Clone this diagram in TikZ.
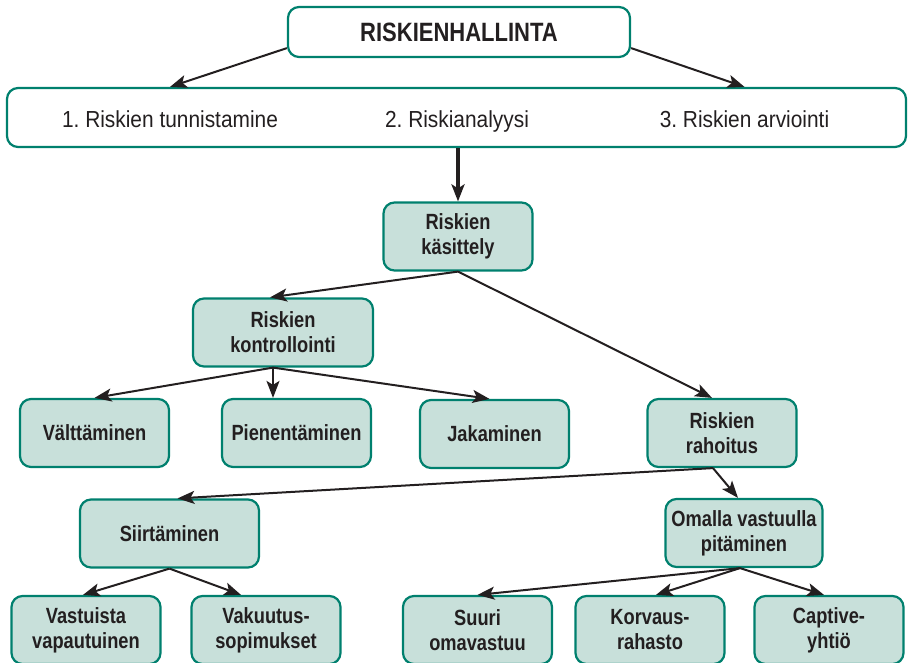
\documentclass[tikz,border=0pt]{standalone}
\usepackage{fontspec}
\setmainfont{Liberation Sans}[FakeStretch=0.83]
\newfontfamily\phasefont{Liberation Sans}[FakeStretch=0.9]
\usetikzlibrary{arrows.meta}
\frenchspacing

\definecolor{boxline}{RGB}{0,128,110}
\definecolor{boxfill}{RGB}{200,224,218}
\definecolor{ink}{RGB}{35,31,32}

\tikzset{
  phase/.style={draw=boxline, line width=2.2pt, rounded corners=11pt, fill=white, text=ink, inner sep=0pt},
  task/.style={draw=boxline, line width=2.2pt, rounded corners=11pt, fill=boxfill, text=ink,
    align=center, inner sep=0pt, minimum width=149pt, minimum height=68pt,
    font=\bfseries\fontsize{22}{25}\selectfont},
  plain/.style={text=ink, anchor=base, font=\phasefont\fontsize{23.2}{28}\selectfont},
  link/.style={draw=ink, line width=2pt, -{Stealth[length=17pt,width=13pt,inset=4pt]}},
}

\begin{document}
\begin{tikzpicture}[x=1pt,y=-1pt]
  %%%%% START %%%%%
  \useasboundingbox (0,0) rectangle (908,663);
  \clip (0,0) rectangle (908,663);

  % top and the three phases
  \node[phase, minimum width=342pt, minimum height=50pt, font=\bfseries\fontsize{26.5}{30}\selectfont] (hallinta) at (459,32) {RISKIENHALLINTA};
  \node[phase, minimum width=899pt, minimum height=59pt] (vaiheet) at (456.5,117.5) {};
  \node[plain] (tunnistus) at (170,128) {1. Riskien tunnistamine};
  \node[plain] (analyysi) at (457,128) {2. Riskianalyysi};
  \node[plain] (arviointi) at (744.5,128) {3. Riskien arviointi};

  % boxes
  \node[task] (kasittely) at (458,236.5) {Riskien\\käsittely};

  \node[task, minimum width=180pt] (kontrollointi) at (283,332.5) {Riskien\\kontrollointi};
  \node[task] (rahoitus) at (722,433) {Riskien\\rahoitus};

  \node[task] (valttaminen) at (94.5,433) {Välttäminen};
  \node[task] (pienentaminen) at (296.5,433) {Pienentäminen};
  \node[task] (jakaminen) at (494.5,434) {Jakaminen};

  \node[task, minimum width=179pt] (siirtaminen) at (169.5,533.5) {Siirtäminen};
  \node[task, minimum width=157pt] (omalla) at (744,533) {Omalla vastuulla\\pitäminen};

  \node[task] (vastuista) at (86,630) {Vastuista\\vapautuinen};
  \node[task] (vakuutus) at (266,630) {Vakuutus-\\sopimukset};
  \node[task] (suuri) at (477.5,630) {Suuri\\omavastuu};
  \node[task] (korvaus) at (650,630) {Korvaus-\\rahasto};
  \node[task] (captive) at (829,630) {Captive-\\yhtiö};

  % arrows
  \draw[link] ([yshift=10pt]hallinta.south west) -- (tunnistus |- vaiheet.north);
  \draw[link] ([yshift=10pt]hallinta.south east) -- (arviointi |- vaiheet.north);
  \draw[link, line width=3.5pt] (vaiheet.south -| kasittely) -- (kasittely.north);

  \draw[link] (kasittely.south) -- ([xshift=-13pt]kontrollointi.north);
  \draw[link] (kasittely.south) -- ([xshift=-10pt]rahoitus.north);

  \draw[link] ([xshift=-10pt]kontrollointi.south) -- (valttaminen.north);
  \draw[link] ([xshift=-10pt]kontrollointi.south) -- ([xshift=-23.5pt]pienentaminen.north);
  \draw[link] ([xshift=-10pt]kontrollointi.south) -- ([xshift=-5pt]jakaminen.north);

  \draw[link] ([xshift=-9pt]rahoitus.south) -- ([xshift=8pt]siirtaminen.north);
  \draw[link] ([xshift=-9pt]rahoitus.south) -- ([xshift=-6pt]omalla.north);

  \draw[link] (siirtaminen.south) -- ([xshift=-3pt]vastuista.north);
  \draw[link] (siirtaminen.south) -- ([xshift=-25pt]vakuutus.north);

  \draw[link] ([xshift=-4pt]omalla.south) -- (suuri.north);
  \draw[link] ([xshift=-4pt]omalla.south) -- ([xshift=6pt]korvaus.north);
  \draw[link] ([xshift=-4pt]omalla.south) -- ([xshift=-5pt]captive.north);
  %%%%% END %%%%%
\end{tikzpicture}
\end{document}
